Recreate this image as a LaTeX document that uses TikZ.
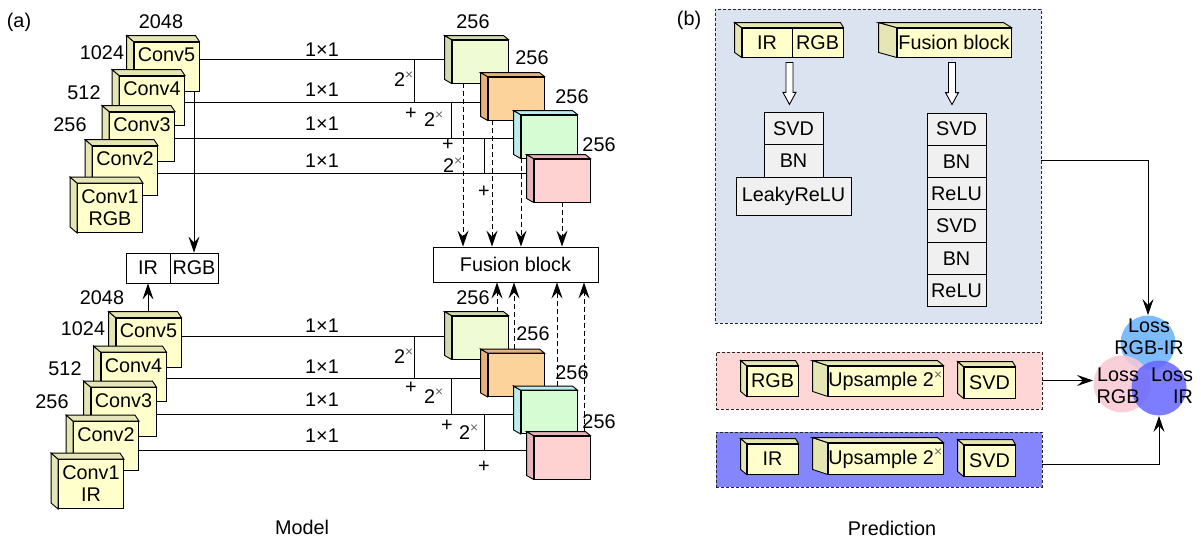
\documentclass[tikz,border=0pt]{standalone}
\usepackage{fontspec}
\setmainfont{Liberation Sans}
\usetikzlibrary{arrows.meta,calc,backgrounds}
\definecolor{convF}{HTML}{FFFFCC}
\definecolor{convS}{HTML}{E6E6B4}
\definecolor{gF}{HTML}{EFFCD3}
\definecolor{gS}{HTML}{D1DBB1}
\definecolor{oF}{HTML}{FDD39C}
\definecolor{oS}{HTML}{E7B17C}
\definecolor{cF}{HTML}{D5FCD3}
\definecolor{cS}{HTML}{BDECEE}
\definecolor{pF}{HTML}{FFD2D2}
\definecolor{pS}{HTML}{E6B3B8}
\definecolor{panelB}{HTML}{DAE3EF}
\definecolor{panelP}{HTML}{FFD6D6}
\definecolor{panelV}{HTML}{8686FC}
\definecolor{layerG}{HTML}{F0F0F0}
\definecolor{lossA}{HTML}{66B2FF}
\definecolor{lossB}{HTML}{F8C8D4}
\definecolor{lossC}{HTML}{6666FF}
% side and top faces of a box drawn as a prism
\newcommand{\pfaces}[6]{%
  \draw[fill=#6] (#1.north west) -- ++(-#3,-#5) -- ($(#1.south west)+(-#3,-#5)$) -- (#1.south west) -- cycle;
  \draw[fill=#6] (#1.north west) -- ++(-#3,-#5) -- ($(#2.north east)+(-#4,-#5)$) -- (#2.north east) -- cycle;}
\newcommand{\hollowarr}[2]{%
  \draw[fill=white] ($(#1)+(-3.5,0)$) -- ($(#2)+(-3.5,-12)$) -- ($(#2)+(-6.5,-12)$) -- (#2)
    -- ($(#2)+(6.5,-12)$) -- ($(#2)+(3.5,-12)$) -- ($(#1)+(3.5,0)$) -- cycle;}
\newcommand{\tsup}{\textsuperscript{\color{black!60}×}}
\begin{document}
\begin{tikzpicture}[x=1pt,y=-1pt,font=\fontsize{19.8}{22}\selectfont,line width=0.9pt,
  every node/.style={inner sep=0pt},
  conv/.style={draw,fill=convF,minimum width=65pt,minimum height=49pt,align=center},
  convup/.style={conv,text height=14pt,text depth=24pt},
  cube/.style={draw,minimum width=56pt,minimum height=43pt},
  plain/.style={draw,fill=white,minimum height=30pt},
  layerbox/.style={draw,fill=layerG,minimum width=59pt,minimum height=32.3pt},
  prism/.style={draw,fill=convF,minimum height=29pt},
  panel/.style={draw=black!85,dash pattern=on 3pt off 2pt,minimum width=326pt},
  arr/.style={-{Stealth[length=16pt,width=11pt,inset=6pt]}},
  darr/.style={arr,dash pattern=on 5pt off 3pt},
  lossc/.style={circle,fill opacity=0.85}]
\useasboundingbox (0,0) rectangle (1201,538);

% ---------------- (a) top branch
\node[convup] (t5) at (166.5,66.5) {Conv5}; \pfaces{t5}{t5}{7}{4}{6}{convS}
\node[convup] (t4) at (152,100.5) {Conv4}; \pfaces{t4}{t4}{7}{4}{6}{convS}
\node[convup] (t3) at (142,136.5) {Conv3}; \pfaces{t3}{t3}{7}{4}{6}{convS}
\node[convup] (t2) at (125,170.5) {Conv2}; \pfaces{t2}{t2}{7}{4}{6}{convS}
\node[conv] (t1) at (110,208) {Conv1\\RGB}; \pfaces{t1}{t1}{7}{4}{6}{convS}

\node[cube,fill=gF] (g1) at (480,61.5) {}; \pfaces{g1}{g1}{7}{5}{4}{gS}
\node[cube,fill=oF] (o1) at (516,98.5) {}; \pfaces{o1}{o1}{7}{5}{4}{oS}
\node[cube,fill=cF] (c1) at (549,136.5) {}; \pfaces{c1}{c1}{7}{5}{4}{cS}
\node[cube,fill=pF] (p1) at (562,180.5) {}; \pfaces{p1}{p1}{7}{5}{4}{pS}

% ---------------- (a) bottom branch
\node[convup] (b5) at (148.5,342.5) {Conv5}; \pfaces{b5}{b5}{7}{4}{6}{convS}
\node[convup] (b4) at (133.5,377) {Conv4}; \pfaces{b4}{b4}{7}{4}{6}{convS}
\node[convup] (b3) at (123.5,412) {Conv3}; \pfaces{b3}{b3}{7}{4}{6}{convS}
\node[convup] (b2) at (106,446) {Conv2}; \pfaces{b2}{b2}{7}{4}{6}{convS}
\node[conv] (b1) at (91,484) {Conv1\\IR}; \pfaces{b1}{b1}{7}{4}{6}{convS}

\node[cube,fill=gF] (g2) at (480,337.5) {}; \pfaces{g2}{g2}{7}{5}{4}{gS}
\node[cube,fill=oF] (o2) at (516,375) {}; \pfaces{o2}{o2}{7}{5}{4}{oS}
\node[cube,fill=cF] (c2) at (549,412) {}; \pfaces{c2}{c2}{7}{5}{4}{cS}
\node[cube,fill=pF] (p2) at (562,457.5) {}; \pfaces{p2}{p2}{7}{5}{4}{pS}

\node[draw,fill=white,minimum width=165pt,minimum height=35pt] (fus) at (515.5,264.5) {Fusion block};
\node[plain,minimum width=44pt] (irA) at (148,268) {IR};
\node[plain,minimum width=48pt] (rgbA) at (194,268) {RGB};

% lateral connections (behind the boxes)
\coordinate (yA1) at (0,59);  \coordinate (yA2) at (0,102);
\coordinate (yA3) at (0,138); \coordinate (yA4) at (0,173);
\coordinate (yB1) at (0,336); \coordinate (yB2) at (0,378);
\coordinate (yB3) at (0,414); \coordinate (yB4) at (0,450);
\coordinate (vA1) at (414,59);  \coordinate (vA2) at (451,102); \coordinate (vA3) at (484,138);
\coordinate (vB1) at (414,336); \coordinate (vB2) at (451,378); \coordinate (vB3) at (484,414);
\begin{scope}[on background layer]
  \draw (t5.east |- yA1) -- (g1.west |- yA1);
  \draw (t4.east |- yA2) -- (o1.west |- yA2);
  \draw (t3.east |- yA3) -- (c1.west |- yA3);
  \draw (t2.east |- yA4) -- (p1.west |- yA4);
  \draw (vA1) -- (vA1 |- yA2);
  \draw (vA2) -- (vA2 |- yA3);
  \draw (vA3) -- (vA3 |- yA4);
  \draw (b5.east |- yB1) -- (g2.west |- yB1);
  \draw (b4.east |- yB2) -- (o2.west |- yB2);
  \draw (b3.east |- yB3) -- (c2.west |- yB3);
  \draw (b2.east |- yB4) -- (p2.west |- yB4);
  \draw (vB1) -- (vB1 |- yB2);
  \draw (vB2) -- (vB2 |- yB3);
  \draw (vB3) -- (vB3 |- yB4);
\end{scope}

% arrows
\coordinate (a1) at (t5.south -| rgbA.north);
\draw[arr] (a1) -- (rgbA.north);
\coordinate (a2) at (b5.north -| irA.south);
\draw[arr] ([yshift=6pt]a2) -- (irA.south);
\coordinate (d1) at ([xshift=-17pt]g1.south);
\coordinate (d2) at ([xshift=-24pt]o1.south);
\coordinate (d3) at ([xshift=-28pt]c1.south);
\coordinate (d4) at (p1.south);
\foreach \d in {d1,d2,d3,d4} \draw[darr] (\d) -- (\d |- fus.north);
\coordinate (u1) at ([xshift=17pt,yshift=4pt]g2.north);
\coordinate (u2) at ([xshift=-2pt,yshift=4pt]o2.north);
\coordinate (u3) at ([xshift=8pt,yshift=4pt]c2.north);
\coordinate (u4) at ([xshift=22pt,yshift=4pt]p2.north);
\foreach \u in {u1,u2,u3,u4} \draw[darr] (\u) -- (\u |- fus.south);

% labels (a)
\node (la) at (19,22) {(a)};
\node (ta1) at (161,22) {2048};
\node (ta2) at (102,53) {1024};
\node (ta3) at (84,93) {512};
\node (ta4) at (70,125) {256};
\node (tb1) at (102,298) {2048};
\node (tb2) at (83,329) {1024};
\node (tb3) at (65,369) {512};
\node (tb4) at (52,402) {256};
\foreach \y [count=\i] in {50,90,124,161} \node (k\i) at (322,\y) {1×1};
\foreach \y [count=\i] in {326,367,400,436} \node (m\i) at (322,\y) {1×1};
\node (n1) at (473,22) {256};
\node (n2) at (532,58) {256};
\node (n3) at (572,97) {256};
\node (n4) at (599,145) {256};
\node (q1) at (473,298) {256};
\node (q2) at (533,334) {256};
\node (q3) at (572,373) {256};
\node (q4) at (599,422) {256};
\node (x1) at (404,79) {2\tsup};
\node (x2) at (434,119) {2\tsup};
\node (x3) at (453,165) {2\tsup};
\node (s1p) at (411,114) {+};
\node (s2p) at (448,145) {+};
\node (s3p) at (484,192) {+};
\node (x4) at (404,356) {2\tsup};
\node (x5) at (434,396) {2\tsup};
\node (x6) at (469,432) {2\tsup};
\node (s4p) at (411,388) {+};
\node (s5p) at (447,426) {+};
\node (s6p) at (484,467) {+};
\node (model) at (302,527) {Model};

% ---------------- (b)
\node (lb) at (689,20) {(b)};
\node[panel,fill=panelB,minimum height=314pt] (pb) at (878,166) {};
\node[panel,fill=panelP,minimum height=57pt] (pp) at (879,380.5) {};
\node[panel,fill=panelV,minimum height=55pt] (pv) at (879,459.5) {};

\node[prism,minimum width=50pt] (irn) at (767,42.5) {IR};
\node[prism,minimum width=51pt] (rgbn) at (817.5,42.5) {RGB};
\pfaces{irn}{rgbn}{7}{3}{5}{convS}
\node[prism,minimum width=114pt] (fbn) at (954,42.5) {Fusion block};
\pfaces{fbn}{fbn}{18}{8}{5}{convS}

\node[layerbox] (s1) at (793.5,129) {SVD};
\node[layerbox] (s2) at (793.5,161) {BN};
\node[layerbox,minimum width=115pt,minimum height=38pt] (s3) at (793.5,196) {LeakyReLU};
\node[layerbox] (r1) at (956.5,129.15) {SVD};
\node[layerbox] (r2) at (956.5,161.45) {BN};
\node[layerbox] (r3) at (956.5,193.75) {ReLU};
\node[layerbox] (r4) at (956.5,226.05) {SVD};
\node[layerbox] (r5) at (956.5,258.35) {BN};
\node[layerbox] (r6) at (956.5,290.65) {ReLU};

\coordinate (h1a) at ([xshift=-3pt,yshift=-5pt]irn.south east);
\coordinate (h1b) at ([yshift=8pt]s1.north -| h1a);
\coordinate (h2a) at ([xshift=-2pt,yshift=-5pt]fbn.south);
\coordinate (h2b) at ([yshift=8pt]r1.north -| h2a);
\hollowarr{h1a}{h1b}
\hollowarr{h2a}{h2b}

\node[prism,minimum width=51pt,minimum height=30pt] (pr1) at (772.5,381) {RGB}; \pfaces{pr1}{pr1}{6}{3}{5}{convS}
\node[prism,minimum width=115pt,minimum height=30pt] (pr2) at (885.5,381) {Upsample 2\tsup}; \pfaces{pr2}{pr2}{15}{6}{5}{convS}
\node[prism,minimum width=51pt,minimum height=31pt] (pr3) at (989.5,382.5) {SVD}; \pfaces{pr3}{pr3}{6}{3}{5}{convS}
\node[prism,minimum width=51pt,minimum height=30pt] (vr1) at (772.5,459) {IR}; \pfaces{vr1}{vr1}{6}{3}{5}{convS}
\node[prism,minimum width=115pt,minimum height=31pt] (vr2) at (885.5,458.5) {Upsample 2\tsup}; \pfaces{vr2}{vr2}{15}{6}{5}{convS}
\node[prism,minimum width=51pt,minimum height=31pt] (vr3) at (989.5,460.5) {SVD}; \pfaces{vr3}{vr3}{6}{3}{5}{convS}

\node[lossc,fill=lossA,minimum size=55pt] (lA) at (1148,343) {};
\node[lossc,fill=lossB,minimum size=57pt] (lB) at (1122,384) {};
\node[lossc,fill=lossC,minimum size=55pt] (lC) at (1159,388) {};
\node[align=center] (tA) at (1149,337) {Loss\\RGB-IR};
\node[align=center] (tB) at (1118,386) {Loss\\RGB};
\node[align=right] (tC) at (1172,386) {Loss\\IR};

\draw[arr] ([yshift=6pt]pb.east) -| (lA.north);
\draw[arr] (pp.east) -- (pp.east -| lB.west);
\draw[arr] ([yshift=-4.5pt]pv.east) -| (lC.south);

\node (pred) at (892,528) {Prediction};
\end{tikzpicture}
\end{document}
